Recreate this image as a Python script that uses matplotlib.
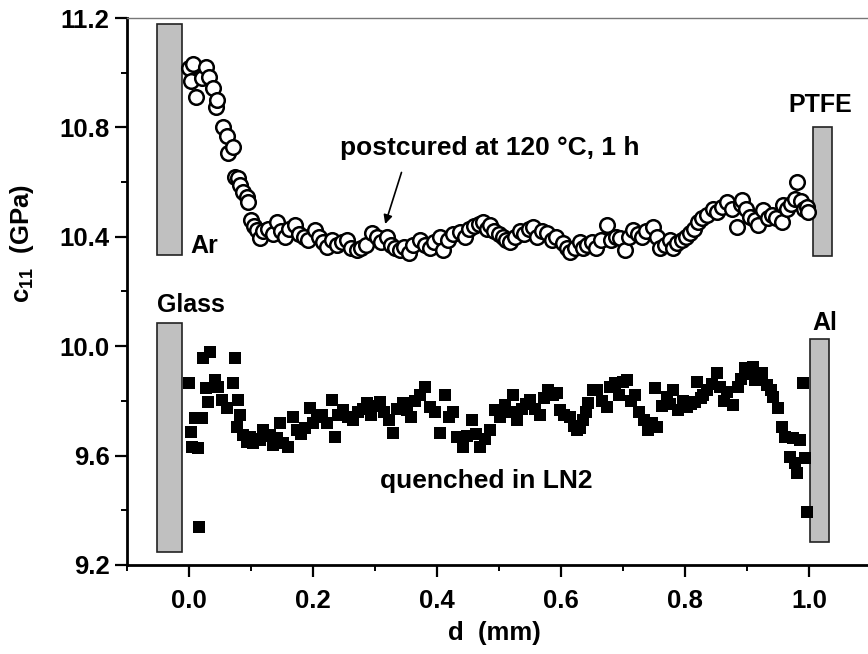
import matplotlib
matplotlib.use('Agg')
import matplotlib.pyplot as plt
from matplotlib.patches import Rectangle
from matplotlib.ticker import MultipleLocator, FormatStrFormatter

plt.rcParams['font.family'] = 'Liberation Sans'
plt.rcParams['font.weight'] = 'bold'
plt.rcParams['mathtext.fontset'] = 'custom'
plt.rcParams['mathtext.bf'] = 'Liberation Sans:bold'
plt.rcParams['mathtext.rm'] = 'Liberation Sans:bold'

# postcured at 120 C, 1 h (open circles)
post_d = [0.000, 0.003, 0.006, 0.012, 0.021, 0.027, 0.033, 0.039, 0.043, 0.045,
          0.055, 0.061, 0.063, 0.071, 0.074, 0.079, 0.082, 0.087, 0.093, 0.095,
          0.100, 0.105, 0.110, 0.115, 0.120, 0.128, 0.135, 0.142, 0.148, 0.155,
          0.162, 0.171, 0.178, 0.185, 0.192, 0.203, 0.210, 0.216, 0.223, 0.230,
          0.238, 0.246, 0.255, 0.262, 0.271, 0.278, 0.286, 0.295, 0.303, 0.310,
          0.319, 0.326, 0.333, 0.340, 0.347, 0.355, 0.362, 0.373, 0.380, 0.388,
          0.395, 0.405, 0.410, 0.418, 0.425, 0.437, 0.445, 0.452, 0.460, 0.467,
          0.474, 0.480, 0.485, 0.492, 0.500, 0.506, 0.512, 0.518, 0.525, 0.533,
          0.540, 0.548, 0.555, 0.562, 0.570, 0.577, 0.585, 0.592, 0.603, 0.609,
          0.615, 0.622, 0.630, 0.636, 0.642, 0.650, 0.657, 0.664, 0.674, 0.680,
          0.688, 0.695, 0.703, 0.710, 0.716, 0.724, 0.730, 0.737, 0.748, 0.754,
          0.760, 0.768, 0.775, 0.781, 0.787, 0.795, 0.802, 0.808, 0.815, 0.821,
          0.828, 0.835, 0.845, 0.852, 0.860, 0.868, 0.875, 0.884, 0.890, 0.892,
          0.898, 0.905, 0.912, 0.918, 0.926, 0.933, 0.940, 0.947, 0.956, 0.958,
          0.965, 0.971, 0.977, 0.981, 0.987, 0.992, 0.997, 0.999]
post_c11 = [11.017, 10.970, 11.030, 10.910, 10.980, 11.020, 10.985, 10.944, 10.875, 10.900,
            10.800, 10.770, 10.707, 10.730, 10.620, 10.616, 10.590, 10.565, 10.546, 10.528,
            10.460, 10.440, 10.426, 10.396, 10.420, 10.430, 10.410, 10.455, 10.420, 10.400,
            10.430, 10.444, 10.410, 10.400, 10.390, 10.426, 10.400, 10.380, 10.363, 10.390,
            10.370, 10.380, 10.389, 10.360, 10.350, 10.360, 10.370, 10.415, 10.400, 10.380,
            10.400, 10.370, 10.360, 10.350, 10.363, 10.340, 10.370, 10.389, 10.370, 10.360,
            10.380, 10.400, 10.350, 10.390, 10.410, 10.418, 10.400, 10.430, 10.440, 10.445,
            10.455, 10.430, 10.444, 10.420, 10.410, 10.400, 10.390, 10.380, 10.400, 10.420,
            10.410, 10.430, 10.437, 10.400, 10.420, 10.415, 10.390, 10.400, 10.378, 10.360,
            10.345, 10.360, 10.380, 10.360, 10.370, 10.380, 10.360, 10.390, 10.444, 10.390,
            10.400, 10.396, 10.350, 10.400, 10.426, 10.410, 10.400, 10.420, 10.437, 10.400,
            10.360, 10.370, 10.390, 10.360, 10.378, 10.390, 10.400, 10.415, 10.430, 10.455,
            10.470, 10.480, 10.500, 10.490, 10.510, 10.528, 10.500, 10.437, 10.520, 10.535,
            10.500, 10.473, 10.460, 10.444, 10.499, 10.470, 10.480, 10.470, 10.455, 10.517,
            10.500, 10.520, 10.540, 10.600, 10.530, 10.500, 10.510, 10.490]

# quenched in LN2 (filled squares)
quench_d = [0.000, 0.003, 0.005, 0.010, 0.015, 0.016, 0.021, 0.023, 0.027, 0.031,
            0.034, 0.042, 0.047, 0.053, 0.061, 0.071, 0.074, 0.077, 0.079, 0.082,
            0.087, 0.093, 0.098, 0.103, 0.109, 0.115, 0.120, 0.126, 0.130, 0.135,
            0.142, 0.147, 0.152, 0.160, 0.168, 0.174, 0.180, 0.187, 0.195, 0.200,
            0.207, 0.214, 0.222, 0.230, 0.235, 0.241, 0.248, 0.256, 0.265, 0.272,
            0.280, 0.287, 0.294, 0.300, 0.308, 0.315, 0.322, 0.329, 0.336, 0.345,
            0.351, 0.358, 0.365, 0.372, 0.380, 0.389, 0.396, 0.405, 0.413, 0.420,
            0.426, 0.432, 0.442, 0.449, 0.456, 0.463, 0.469, 0.477, 0.485, 0.494,
            0.502, 0.510, 0.517, 0.523, 0.529, 0.537, 0.544, 0.550, 0.558, 0.566,
            0.572, 0.579, 0.587, 0.594, 0.598, 0.605, 0.615, 0.621, 0.626, 0.631,
            0.635, 0.640, 0.644, 0.652, 0.658, 0.666, 0.674, 0.679, 0.687, 0.693,
            0.700, 0.706, 0.712, 0.719, 0.726, 0.733, 0.740, 0.747, 0.752, 0.755,
            0.762, 0.771, 0.776, 0.781, 0.789, 0.796, 0.803, 0.810, 0.816, 0.819,
            0.825, 0.829, 0.836, 0.844, 0.852, 0.857, 0.863, 0.868, 0.877, 0.885,
            0.890, 0.897, 0.904, 0.910, 0.913, 0.918, 0.924, 0.932, 0.938, 0.942,
            0.950, 0.956, 0.961, 0.969, 0.974, 0.977, 0.981, 0.985, 0.990, 0.994,
            0.996]
quench_c11 = [9.867, 9.688, 9.630, 9.739, 9.626, 9.340, 9.739, 9.958, 9.848, 9.797,
              9.980, 9.878, 9.852, 9.805, 9.775, 9.867, 9.958, 9.706, 9.805, 9.750,
              9.677, 9.651, 9.669, 9.647, 9.660, 9.658, 9.695, 9.670, 9.677, 9.640,
              9.666, 9.720, 9.647, 9.633, 9.742, 9.695, 9.680, 9.700, 9.775, 9.720,
              9.740, 9.750, 9.720, 9.805, 9.669, 9.750, 9.768, 9.740, 9.731, 9.760,
              9.770, 9.794, 9.750, 9.780, 9.797, 9.760, 9.730, 9.684, 9.770, 9.794,
              9.768, 9.740, 9.800, 9.820, 9.852, 9.779, 9.760, 9.684, 9.823, 9.740,
              9.761, 9.669, 9.633, 9.670, 9.731, 9.680, 9.633, 9.660, 9.695, 9.768,
              9.740, 9.786, 9.760, 9.823, 9.731, 9.770, 9.790, 9.805, 9.770, 9.750,
              9.810, 9.841, 9.820, 9.830, 9.768, 9.750, 9.742, 9.710, 9.695, 9.700,
              9.731, 9.760, 9.794, 9.841, 9.841, 9.800, 9.779, 9.852, 9.867, 9.820,
              9.870, 9.878, 9.800, 9.823, 9.760, 9.730, 9.695, 9.720, 9.848, 9.706,
              9.780, 9.816, 9.790, 9.841, 9.768, 9.800, 9.779, 9.790, 9.797, 9.870,
              9.810, 9.823, 9.840, 9.860, 9.903, 9.852, 9.800, 9.834, 9.786, 9.852,
              9.880, 9.921, 9.900, 9.925, 9.878, 9.890, 9.903, 9.859, 9.840, 9.816,
              9.775, 9.706, 9.669, 9.596, 9.666, 9.574, 9.538, 9.658, 9.867, 9.592,
              9.395]

x_ticks = [0.0, 0.2, 0.4, 0.6, 0.8, 1.0]
y_ticks = [9.2, 9.6, 10.0, 10.4, 10.8, 11.2]

fig = plt.figure(figsize=(8.68, 6.54), dpi=100)
ax = fig.add_axes([127/868, 89/654, 1 - 127/868, 547/654])

# substrate / reflector bars
for x0, y0, w, h in [(-0.052, 10.334, 0.041, 0.844), (-0.052, 9.246, 0.041, 0.840),
                     (1.006, 10.330, 0.031, 0.470), (1.002, 9.285, 0.030, 0.742)]:
    ax.add_patch(Rectangle((x0, y0), w, h, facecolor='#c0c0c0', edgecolor='#222222', lw=1.2, zorder=2))

ax.plot(post_d, post_c11, 'o', ms=10.5, mfc='white', mec='black', mew=1.8, ls='none', zorder=3)
ax.plot(quench_d, quench_c11, 's', ms=9.0, mfc='black', mec='black', mew=0, ls='none', zorder=3)

fs = 18
ax.text(0.003, 10.342, 'Ar', fontsize=fs, ha='left', va='baseline')
ax.text(-0.052, 10.126, 'Glass', fontsize=fs, ha='left', va='baseline')
ax.text(0.966, 10.857, 'PTFE', fontsize=fs, ha='left', va='baseline')
ax.text(1.005, 10.06, 'Al', fontsize=fs, ha='left', va='baseline')
ax.text(0.243, 10.70, 'postcured at 120 °C, 1 h', fontsize=fs + 1, ha='left', va='baseline')
ax.text(0.308, 9.483, 'quenched in LN2', fontsize=fs + 1, ha='left', va='baseline')
ax.annotate('', xy=(0.315, 10.437), xytext=(0.344, 10.645),
            arrowprops=dict(arrowstyle='-|>', color='black', lw=1.2, mutation_scale=13))

ax.set_xlim(-0.1, 1.095)
ax.set_ylim(9.2, 11.2)
ax.set_xticks(x_ticks)
ax.set_yticks(y_ticks)
ax.xaxis.set_minor_locator(MultipleLocator(0.1))
ax.yaxis.set_minor_locator(MultipleLocator(0.2))
ax.xaxis.set_major_formatter(FormatStrFormatter('%.1f'))
ax.yaxis.set_major_formatter(FormatStrFormatter('%.1f'))
ax.tick_params(which='major', direction='out', length=8.5, width=1.6, labelsize=fs + 0.5)
ax.tick_params(which='minor', direction='out', length=4.5, width=1.4)
ax.tick_params(axis='x', which='major', pad=9)
ax.tick_params(axis='y', which='major', pad=4)
for lab in ax.get_xticklabels() + ax.get_yticklabels():
    lab.set_fontweight('bold')

ax.spines['right'].set_visible(False)
ax.spines['top'].set_color('#777777')
ax.spines['top'].set_linewidth(1.0)
ax.spines['left'].set_linewidth(2.0)
ax.spines['bottom'].set_linewidth(2.0)

fig.text(22/868, 1 - 243/654, r'c$_{\mathbf{11}}$  (GPa)', fontsize=fs + 0.5, rotation=90, ha='center', va='center')
fig.text(494/868, 1 - 633/654, 'd  (mm)', fontsize=fs + 0.5, ha='center', va='center')

fig.savefig('out.png', dpi=100)
plt.close(fig)
